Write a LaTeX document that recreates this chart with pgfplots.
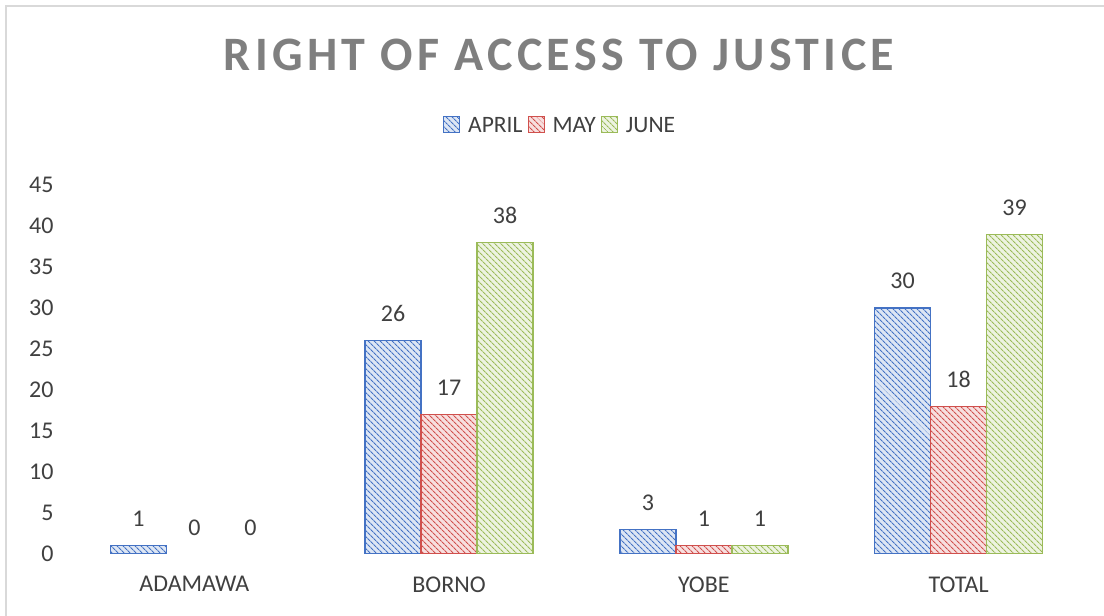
\documentclass[border=0pt]{standalone}
\usepackage{fontspec}
\setmainfont{Carlito}
\usepackage{pgfplots}
\pgfplotsset{compat=1.18}
\usetikzlibrary{patterns.meta}
\definecolor{cblue}{HTML}{4472C4}
\definecolor{cred}{HTML}{D0504D}
\definecolor{cgreen}{HTML}{9BBB59}
\definecolor{txt}{HTML}{404040}
\definecolor{ttl}{HTML}{7F7F7F}
\pgfplotsset{
  hatch/.style={draw=#1, line width=1.3pt, fill=#1!18,
    postaction={pattern={Lines[angle=-45,distance=4pt,line width=1.2pt]}, pattern color=#1}},
}
\begin{document}
\begin{tikzpicture}
\useasboundingbox (0pt,0pt) rectangle (1104pt,616pt);
\fill[white] (0pt,0pt) rectangle (1104pt,616pt);
\draw[black!15, line width=1.5pt] (6pt,0pt) -- (6pt,610pt) -- (1104pt,610pt);
\node[font=\fontsize{48}{56}\selectfont\bfseries\addfontfeature{LetterSpace=9}, text=ttl] at (559pt,561pt) {RIGHT OF ACCESS TO JUSTICE};
\begin{axis}[
  at={(67pt,62pt)}, anchor=south west,
  scale only axis, width=1019pt, height=369pt,
  ybar=0pt, bar width=56pt,
  xmin=-0.5, xmax=3.5, ymin=0, ymax=45,
  xtick={0,1,2,3}, xticklabels={ADAMAWA,BORNO,YOBE,TOTAL},
  ytick={0,5,...,45},
  axis line style={draw=none}, major tick length=0pt,
  ticklabel style={font=\fontsize{24}{28}\selectfont, text=txt},
  xticklabel style={yshift=-19pt},
  yticklabel style={xshift=-10pt},
  nodes near coords,
  every node near coord/.append style={font=\fontsize{24}{28}\selectfont, text=txt, yshift=15pt},
  legend columns=3,
  legend style={at={(0.484,1.16)}, anchor=center, draw=none, fill=none,
    font=\fontsize{23.5}{27}\selectfont, text=txt,
    /tikz/every even column/.append style={column sep=3pt},
    /tikz/every odd column/.append style={column sep=6pt}},
  legend image code/.code={\draw[#1, line width=1pt] (0pt,-7pt) rectangle (16pt,9pt);},
  /pgf/number format/assume math mode=true,
]
\addplot[hatch=cblue, bar shift=-56pt] coordinates {(0,1) (1,26) (2,3) (3,30)};
\addplot[hatch=cred, bar shift=0pt] coordinates {(1,17) (2,1) (3,18)};
\addplot[hatch=cgreen, bar shift=56pt] coordinates {(1,38) (2,1) (3,39)};
\addplot[draw=none, fill=none, bar shift=0pt, forget plot] coordinates {(0,0)};
\addplot[draw=none, fill=none, bar shift=56pt, forget plot] coordinates {(0,0)};
\legend{APRIL,MAY,JUNE}
\end{axis}
\end{tikzpicture}
\end{document}
